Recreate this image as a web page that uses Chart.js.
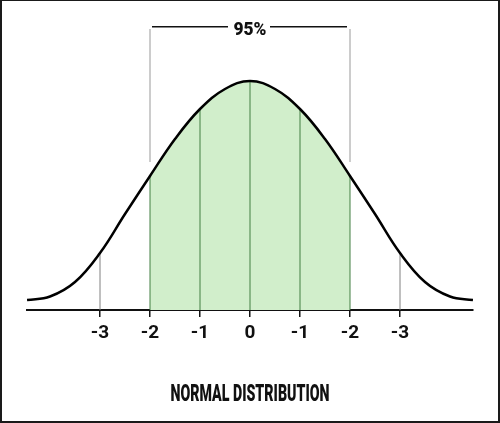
<!DOCTYPE html>
<html>
<head>
<meta charset="utf-8">
<title>Normal Distribution</title>
<script src="https://cdn.jsdelivr.net/npm/chart.js@4"></script>
<style>
  html, body { margin: 0; padding: 0; background: #fff; }
  .wrap { position: relative; width: 500px; height: 423px; }
  .frame { position: absolute; inset: 0; border-style: solid; border-color: #1a1a1a; border-width: 1px 2px 2px 2px; pointer-events: none; }
</style>
</head>
<body>
<div class="wrap">
  <canvas id="chart"></canvas>
  <div class="frame"></div>
</div>
<script>
// curve (x in sd units, y = height above the axis)
const curveX = [-4.46, -4, -3.5, -3, -2.5, -2, -1.5, -1, -0.5, 0, 0.5, 1, 1.5, 2, 2.5, 3, 3.5, 4, 4.46];
const curveY = [10, 13.5, 28, 57, 96, 134, 171, 201, 221, 229, 221, 201, 171, 134, 96, 57, 28, 13.5, 10];

const tickValues = [-3, -2, -1, 0, 1, 2, 3];
const tickLabels = ['-3', '-2', '-1', '0', '-1', '-2', '-3'];

const shadedFrom = -2;
const shadedTo = 2;

// bracket over the shaded band
const bracketLegX = [-2, 2];
const bracketLegY = [148, 281];
const bracketBarX = [[-1.96, -0.44], [0.4, 1.94]];
const bracketBarY = 283.3;
const bracketText = '95%';
const titleText = 'NORMAL DISTRIBUTION';

const FONT = 'Roboto, "DejaVu Sans", sans-serif';
const GREEN_FILL = '#d1eecb';
const GREEN_LINE = '#427f42';
const GREY = '#808080';

const curvePts = curveX.map((x, i) => ({ x: x, y: curveY[i] }));
const heightAt = x => curveY[curveX.indexOf(x)];

const datasets = [];

datasets.push({
    data: curvePts,
    borderColor: '#000',
    borderWidth: 2.5,
    pointRadius: 0,
    tension: 0.4,
    fill: false
});

// vertical guides from the axis up to the curve
tickValues.forEach(x => {
    const inside = x >= shadedFrom && x <= shadedTo;
    datasets.push({
        data: [{ x: x, y: 0 }, { x: x, y: heightAt(x) }],
        borderColor: inside ? GREEN_LINE : GREY,
        borderWidth: 1,
        pointRadius: 0,
        fill: false
    });
});

bracketLegX.forEach(x => {
    datasets.push({
        data: [{ x: x, y: bracketLegY[0] }, { x: x, y: bracketLegY[1] }],
        borderColor: '#999',
        borderWidth: 1,
        pointRadius: 0,
        fill: false
    });
});

bracketBarX.forEach(pair => {
    datasets.push({
        data: [{ x: pair[0], y: bracketBarY }, { x: pair[1], y: bracketBarY }],
        borderColor: '#111',
        borderWidth: 1.5,
        pointRadius: 0,
        fill: false
    });
});

// shaded area, drawn first (last dataset)
datasets.push({
    data: curvePts,
    borderWidth: 0,
    borderColor: 'transparent',
    backgroundColor: 'transparent',
    pointRadius: 0,
    tension: 0.4,
    fill: 'origin',
    segment: {
        backgroundColor: ctx => (ctx.p0.parsed.x >= shadedFrom && ctx.p1.parsed.x <= shadedTo) ? GREEN_FILL : 'transparent'
    }
});

function squeezedText(ctx, text, x, y, width) {
    const w = ctx.measureText(text).width;
    ctx.save();
    ctx.translate(x, y);
    ctx.scale(width / w, 1);
    ctx.fillText(text, 0, 0);
    ctx.restore();
}

const textPlugin = {
    id: 'texts',
    afterDraw(chart) {
        const { ctx, scales } = chart;
        const cx = scales.x.getPixelForValue(0);
        ctx.save();
        ctx.fillStyle = '#111';
        ctx.textAlign = 'center';
        ctx.textBaseline = 'middle';
        ctx.font = '900 19px ' + FONT;
        squeezedText(ctx, bracketText, cx, 30, 33);
        ctx.font = '900 24px ' + FONT;
        squeezedText(ctx, titleText, cx, 395, 159);
        ctx.restore();
    }
};

new Chart(document.getElementById('chart'), {
    type: 'line',
    data: { datasets: datasets },
    options: {
        responsive: true,
        maintainAspectRatio: false,
        animation: false,
        layout: { padding: { left: 27, right: 27, top: 10, bottom: 0 } },
        plugins: { legend: { display: false }, tooltip: { enabled: false } },
        scales: {
            x: {
                type: 'linear',
                min: -4.46,
                max: 4.46,
                afterBuildTicks: s => { s.ticks = tickValues.map(v => ({ value: v })); },
                afterFit: s => { s.height = 113; },
                border: { color: '#111', width: 2 },
                grid: { drawOnChartArea: false, drawTicks: true, tickLength: 7, color: '#111', lineWidth: 1.5 },
                ticks: {
                    autoSkip: false,
                    maxRotation: 0,
                    padding: 5,
                    color: '#111',
                    font: { family: FONT, size: 19, weight: 'bold' },
                    callback: (v, i) => tickLabels[i]
                }
            },
            y: { display: false, min: 0, max: 300 }
        }
    },
    plugins: [textPlugin]
});
</script>
</body>
</html>
